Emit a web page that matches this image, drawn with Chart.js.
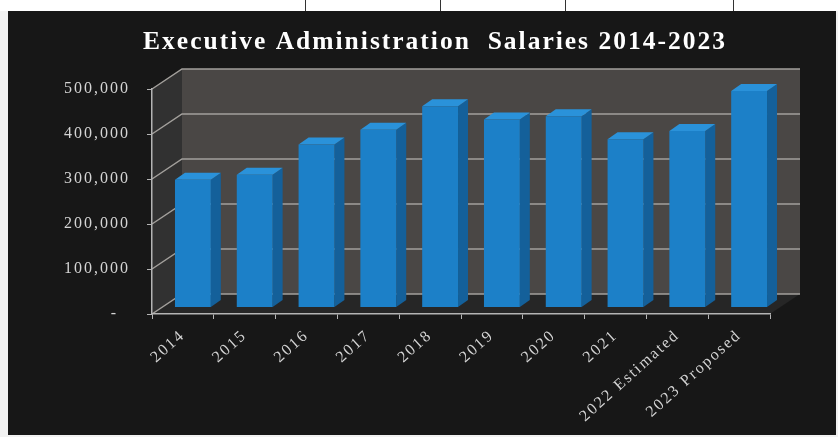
<!DOCTYPE html>
<html>
<head>
<meta charset="utf-8">
<title>Executive Administration Salaries 2014-2023</title>
<script src="https://cdn.jsdelivr.net/npm/chart.js@4.4.1/dist/chart.umd.min.js"></script>
<style>
  html, body { margin: 0; padding: 0; background: #f2f2f2; }
  body { width: 838px; height: 437px; position: relative; overflow: hidden; }
  .bandeau { position: absolute; left: 0; top: 0; width: 838px; height: 11px; background: #fff; }
  .bandeau span { position: absolute; top: 0; height: 11px; border-left: 1px solid #333; }
  .cadre { position: absolute; left: 8px; top: 11px; width: 828px; height: 424px; background: #171717; }
</style>
</head>
<body>
<div class="bandeau">
  <span style="left:305px"></span>
  <span style="left:440px"></span>
  <span style="left:565px"></span>
  <span style="left:733px"></span>
</div>
<div class="cadre"><canvas id="myChart" width="828" height="424"></canvas></div>
<script>
//! The data.

const annees = [
  '2014',
  '2015',
  '2016',
  '2017',
  '2018',
  '2019',
  '2020',
  '2021',
  '2022 Estimated',
  '2023 Proposed',
];
const salaires = [
  284000, 295000, 362000, 395000, 447000, 418000, 425000, 374000, 392000,
  481000,
];
const graduations = [0, 100000, 200000, 300000, 400000, 500000];

//! --------------------------------------------------------------

//! The fake 3D : depth of the box, of the bars, and where the bars sit in it.

const profondeur = { x: 30, y: -20 };
const profondeurBarre = { x: 10, y: -7 };
const decalageBarre = { x: 10, y: -6.5 };

function polygone(ctx, points) {
  ctx.beginPath();
  points.forEach(([px, py], i) => (i ? ctx.lineTo(px, py) : ctx.moveTo(px, py)));
  ctx.closePath();
  ctx.fill();
}

const boite3d = {
  id: 'boite3d',
  afterLayout(chart) {
    // title centred over the labels + plot, not over the whole canvas
    chart.titleBlock.left = 92;
  },
  beforeDraw(chart) {
    const { ctx, chartArea, scales } = chart;
    const { left, right, top, bottom } = chartArea;
    const dx = profondeur.x;
    const dy = profondeur.y;

    // the old Times text is a bit spread out
    ctx.letterSpacing = '2px';

    ctx.save();
    // floor
    ctx.fillStyle = '#262626';
    polygone(ctx, [
      [left, bottom],
      [left + dx, bottom + dy],
      [right + dx, bottom + dy],
      [right, bottom],
    ]);
    // left wall
    ctx.fillStyle = '#313131';
    polygone(ctx, [
      [left, bottom],
      [left, top],
      [left + dx, top + dy],
      [left + dx, bottom + dy],
    ]);
    // back wall
    ctx.fillStyle = '#4a4745';
    ctx.fillRect(left + dx, top + dy, right - left, bottom - top);

    // grid lines : across the left wall then along the back wall
    ctx.strokeStyle = '#a3a09c';
    ctx.lineWidth = 1.5;
    graduations.forEach((v) => {
      const py = scales.y.getPixelForValue(v);
      ctx.beginPath();
      ctx.moveTo(left, py);
      ctx.lineTo(left + dx, py + dy);
      ctx.lineTo(right + dx, py + dy);
      ctx.stroke();
    });
    ctx.restore();
  },
  beforeDatasetsDraw(chart) {
    const ctx = chart.ctx;
    const px = profondeurBarre.x;
    const py = profondeurBarre.y;

    ctx.save();
    ctx.translate(decalageBarre.x, decalageBarre.y);
    chart.getDatasetMeta(0).data.forEach((barre) => {
      const { x, y, base, width } = barre.getProps(
        ['x', 'y', 'base', 'width'],
        true
      );
      const g = x - width / 2;
      const d = x + width / 2;
      // right side of the bar
      ctx.fillStyle = '#14609a';
      polygone(ctx, [
        [d, y],
        [d + px, y + py],
        [d + px, base + py],
        [d, base],
      ]);
      // top of the bar
      ctx.fillStyle = '#2a92da';
      polygone(ctx, [
        [g, y],
        [g + px, y + py],
        [d + px, y + py],
        [d, y],
      ]);
    });
  },
  afterDatasetsDraw(chart) {
    chart.ctx.restore();
  },
};

//! --------------------------------------------------------------

//! The chart.

Chart.defaults.font.family = '"Liberation Serif", "Times New Roman", serif';

const data = {
  labels: annees,
  datasets: [
    {
      label: 'Salaries',
      data: salaires,
      backgroundColor: '#1c80c8',
      borderWidth: 0,
      barPercentage: 0.58,
      categoryPercentage: 1,
      clip: false,
    },
  ],
};

const options = {
  responsive: false,
  animation: false,
  layout: { padding: { left: 0, right: 66, top: 0, bottom: 0 } },
  plugins: {
    legend: { display: false },
    tooltip: { enabled: false },
    title: {
      display: true,
      text: 'Executive Administration  Salaries 2014-2023',
      color: '#ffffff',
      font: { size: 25.5, weight: 'bold', lineHeight: 1.2 },
      padding: { top: 16, bottom: 31.4 },
    },
  },
  scales: {
    x: {
      afterFit(scale) {
        scale.height = 121;
      },
      border: { color: '#b4b4b4', width: 1.5 },
      grid: {
        drawOnChartArea: false,
        tickLength: 5,
        color: '#b4b4b4',
        offset: true,
      },
      ticks: {
        color: '#d4d4d4',
        font: { size: 16 },
        minRotation: 42,
        maxRotation: 42,
        autoSkip: false,
        padding: 7,
        labelOffset: 0,
      },
    },
    y: {
      min: 0,
      max: 500000,
      afterFit(scale) {
        scale.width = 144;
      },
      border: { color: '#b4b4b4', width: 1.5 },
      grid: { drawOnChartArea: false, tickLength: 5, color: '#b4b4b4' },
      ticks: {
        stepSize: 100000,
        padding: 17,
        color: '#d4d4d4',
        font: { size: 16 },
        callback: (v) => (v === 0 ? '-  ' : v.toLocaleString('en-US')),
      },
    },
  },
};

const config = {
  type: 'bar',
  data,
  options,
  plugins: [boite3d],
};

const myChart = new Chart(document.getElementById('myChart'), config);

//! --------------------------------------------------------------
</script>
</body>
</html>
